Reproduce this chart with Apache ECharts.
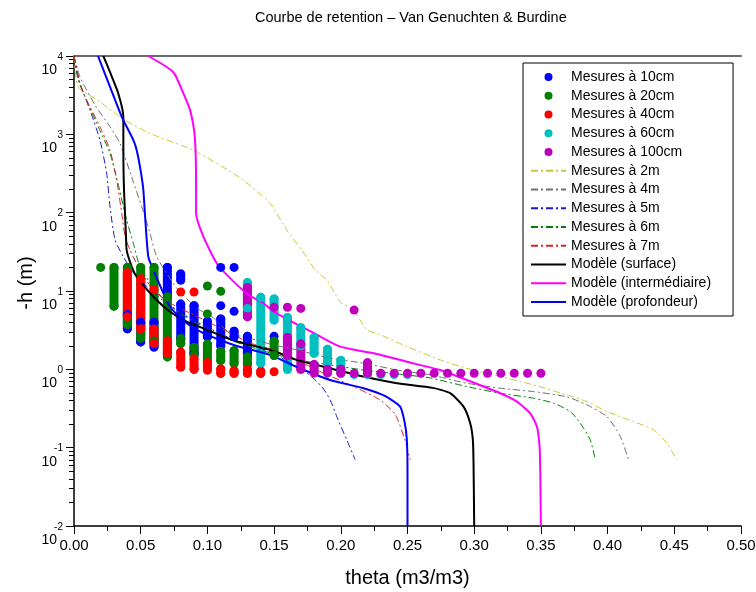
<!DOCTYPE html>
<html><head><meta charset="utf-8">
<script src="https://cdn.jsdelivr.net/npm/echarts@6/dist/echarts.min.js"></script>
<style>html,body{margin:0;padding:0;background:#fff}#c{width:756px;height:592px}</style>
</head><body><div id="c"></div>
<script>
// ---------- DATA ----------
const titleText = 'Courbe de retention – Van Genuchten & Burdine';
const xName = 'theta (m3/m3)';
const yName = '-h (m)';
const yTickValues = [0.01, 0.1, 1, 10, 100, 1000, 10000];
const yTickExponents = ['-2', '-1', '0', '1', '2', '3', '4'];

// measured columns: [theta, h top, h bottom]
const mes10cm = [[0.04,5,3.3],[0.05,4,2.24],[0.06,4,1.93],[0.07,20,8.4],[0.08,16.5,13.8],[0.08,6.8,2.5],[0.09,6.5,1.6],[0.10,4.1,2.6],[0.11,20,20],[0.11,6.5,6.5],[0.11,4.4,2.0],[0.12,20,20],[0.12,5.5,5.5],[0.12,3.06,2.6],[0.13,2.64,1.6],[0.15,2.64,2.64]];
const mes20cm = [[0.02,20,20],[0.03,20,6.4],[0.04,20,3.7],[0.05,20,2.48],[0.06,20,2.3],[0.07,8.4,1.44],[0.08,2.48,2.14],[0.09,1.9,1.5],[0.10,11.6,11.6],[0.10,5.1,5.1],[0.10,2.1,1.25],[0.11,9.9,9.9],[0.11,1.7,1.3],[0.12,1.73,1.19],[0.13,1.45,1.15],[0.15,2.3,1.5]];
const mes40cm = [[0.04,17.2,4.7],[0.05,14.2,3.3],[0.06,10.4,10.4],[0.06,3.27,2.14],[0.07,2.3,1.6],[0.08,9.7,9.7],[0.08,1.65,1.07],[0.09,9.7,9.7],[0.09,1.36,1.0],[0.10,1.22,0.98],[0.11,1.01,0.89],[0.12,0.96,0.89],[0.13,1.0,0.89],[0.14,0.95,0.89],[0.15,0.93,0.93]];
const mes60cm = [[0.13,12.8,6],[0.14,8.3,1.2],[0.15,7.9,4.25],[0.16,4.6,1.0],[0.17,3.4,2.0],[0.18,2.55,1.6],[0.19,1.8,1.2],[0.20,1.3,0.95],[0.21,0.86,0.86],[0.22,0.86,0.86],[0.23,0.86,0.86],[0.24,0.86,0.86],[0.25,0.86,0.86]];
const mes100cm = [[0.13,11.1,4.7],[0.15,6.2,6.2],[0.16,6.2,6.2],[0.16,2.55,1.5],[0.17,6.0,6.0],[0.17,2.1,1.0],[0.18,1.15,0.9],[0.19,1.0,0.9],[0.20,1.0,0.89],[0.21,5.7,5.7],[0.21,0.89,0.89],[0.22,1.21,0.89],[0.23,0.89,0.89],[0.24,0.89,0.89],[0.25,0.89,0.89],[0.26,0.89,0.89],[0.27,0.89,0.89],[0.28,0.89,0.89],[0.29,0.89,0.89],[0.30,0.89,0.89],[0.31,0.89,0.89],[0.32,0.89,0.89],[0.33,0.89,0.89],[0.34,0.89,0.89],[0.35,0.89,0.89]];

// measured profiles (dash-dot curves)
const m2Theta = [0,0.0032,0.0195,0.037,0.057,0.0895,0.1195,0.127,0.147,0.1595,0.1708,0.1808,0.1895,0.1995,0.2095,0.2195,0.227,0.2495,0.2745,0.2945,0.3195,0.3445,0.3695,0.3845,0.3995,0.4195,0.4345,0.4445,0.452];
const m2H = [10000,4036,2600,1563,1026,628,317,261,131.5,60,33.3,18.5,13.8,7.3,5.72,3.18,2.89,1.95,1.32,1.03,0.81,0.632,0.471,0.387,0.289,0.215,0.169,0.114,0.07];
const m4Theta = [0,0.0045,0.0158,0.027,0.0345,0.0445,0.0508,0.057,0.062,0.077,0.092,0.1045,0.117,0.132,0.1495,0.167,0.192,0.217,0.242,0.267,0.2945,0.3195,0.3445,0.3695,0.3845,0.3995,0.4095,0.4157];
const m4H = [10000,5410,2357,1247,766,245,119,54.5,27.4,10.9,6.07,4.52,2.89,2.49,2.05,1.77,1.39,1.2,0.98,0.85,0.665,0.574,0.52,0.445,0.352,0.249,0.139,0.07];
const m5Theta = [0,0.0045,0.012,0.0195,0.0245,0.027,0.0308,0.037,0.0458,0.0645,0.087,0.117,0.147,0.1745,0.1858,0.192,0.198,0.2045,0.2108];
const m5H = [10000,4460,2037,843,317,119,44.7,27.4,16,8.1,4.5,2.5,1.67,0.9,0.6,0.407,0.226,0.126,0.07];
const m6Theta = [0,0.0032,0.017,0.027,0.0345,0.0395,0.0445,0.0495,0.061,0.076,0.0945,0.117,0.142,0.167,0.192,0.217,0.242,0.267,0.2945,0.3195,0.3445,0.3595,0.372,0.3795,0.387,0.3908];
const m6H = [10000,4913,1377,571,183,80.5,40.6,20.4,10.3,5.72,3.68,2.37,1.72,1.32,1.14,0.98,0.874,0.777,0.602,0.495,0.428,0.37,0.289,0.205,0.126,0.07];
const m7Theta = [0,0.0045,0.0095,0.0195,0.027,0.032,0.0358,0.0383,0.042,0.0495,0.0595,0.072,0.0945,0.117,0.132,0.1495,0.167,0.182,0.207,0.2295,0.241,0.248,0.252];
const m7H = [10000,4460,2730,1247,628,261,98,49.3,33.4,18.5,10.3,7.03,4.53,2.91,2.17,1.77,1.32,0.98,0.632,0.407,0.262,0.126,0.07];

// models (solid curves)
const surfTheta = [0.022,0.027,0.0332,0.037,0.037,0.0375,0.039,0.0395,0.0433,0.047,0.0595,0.072,0.0845,0.097,0.112,0.127,0.147,0.167,0.192,0.217,0.242,0.269,0.282,0.292,0.297,0.299,0.2995,0.30];
const surfH = [10000,6210,3325,1672,628,194,49,33,20.4,15.2,8.46,5.44,4.06,3.34,2.61,2.15,1.77,1.32,1.03,0.81,0.665,0.58,0.496,0.334,0.205,0.126,0.063,0.01];
const interTheta = [0.0557,0.0745,0.082,0.087,0.09,0.0911,0.0915,0.0915,0.097,0.107,0.117,0.1307,0.142,0.15,0.1695,0.181,0.1995,0.2245,0.2495,0.2745,0.2945,0.3195,0.332,0.342,0.347,0.349,0.3495,0.35];
const interH = [10000,6210,3325,2037,1132,628,225,98.8,49.3,22.6,14.6,8.97,6.97,5.4,3.58,2.83,1.95,1.6,1.25,0.98,0.73,0.495,0.387,0.275,0.186,0.103,0.052,0.01];
const profTheta = [0.018,0.027,0.0358,0.0445,0.047,0.0499,0.052,0.0533,0.0557,0.0595,0.072,0.0845,0.097,0.1095,0.122,0.147,0.167,0.192,0.217,0.233,0.2445,0.248,0.2495,0.25,0.25];
const profH = [10000,4036,1672,843,628,349,194,88.7,27.4,18.5,6.3,3.87,2.89,2.37,1.99,1.53,1.07,0.73,0.574,0.458,0.334,0.205,0.126,0.052,0.01];

// ---------- BUILD ----------
const FONT = 'Liberation Sans, Arial, sans-serif';
function columns(cols) {
  const out = [];
  cols.forEach((c, i) => {
    if (i > 0) out.push([c[0], '-']);
    out.push([c[0], c[1]]);
    if (c[2] !== c[1]) out.push([c[0], c[2]]);
  });
  return out;
}
function pairs(t, h) { return t.map((v, i) => [v, h[i]]); }

const mesSeries = [
  ['Mesures à 10cm', mes10cm, '#0000ff'],
  ['Mesures à 20cm', mes20cm, '#008000'],
  ['Mesures à 40cm', mes40cm, '#ff0000'],
  ['Mesures à 60cm', mes60cm, '#00bfbf'],
  ['Mesures à 100cm', mes100cm, '#bf00bf']
].map(([name, cols, color]) => ({
  name, type: 'line', data: columns(cols), connectNulls: false,
  symbol: 'circle', symbolSize: 9, showSymbol: true, showAllSymbol: true,
  itemStyle: { color }, lineStyle: { color, width: 9, cap: 'round' },
  silent: true
}));
const DASHDOT = [7, 3, 2, 3];
const curveSeries = [
  ['Mesures à 2m', m2Theta, m2H, '#c8c832', 1, DASHDOT],
  ['Mesures à 4m', m4Theta, m4H, '#707070', 1, DASHDOT],
  ['Mesures à 5m', m5Theta, m5H, '#1a1acc', 1, DASHDOT],
  ['Mesures à 6m', m6Theta, m6H, '#008000', 1, DASHDOT],
  ['Mesures à 7m', m7Theta, m7H, '#e02020', 1, DASHDOT],
  ['Modèle (surface)', surfTheta, surfH, '#000000', 2, 'solid'],
  ['Modèle (intermédiaire)', interTheta, interH, '#ff00ff', 2, 'solid'],
  ['Modèle (profondeur)', profTheta, profH, '#0000ff', 2, 'solid']
].map(([name, t, h, color, width, type]) => ({
  name, type: 'line', data: pairs(t, h), showSymbol: false, symbol: 'none',
  smooth: 0.2, itemStyle: { color }, lineStyle: { color, width, type }, silent: true
}));

const minorVals = [];
for (let e = -2; e < 4; e++) for (let k = 2; k <= 9; k++) minorVals.push(k * Math.pow(10, e));

const chart = echarts.init(document.getElementById('c'), null, { renderer: 'canvas' });
chart.setOption({
  animation: false,
  backgroundColor: '#fff',
  title: { text: titleText, left: 255, top: 10, padding: 0,
    textStyle: { fontFamily: FONT, fontSize: 14.5, fontWeight: 'normal', color: '#000' } },
  grid: { left: 74, right: 15, top: 56, bottom: 66, containLabel: false, outerBoundsMode: 'none' },
  legend: {
    orient: 'vertical', left: 523, top: 63,
    padding: [7, 22, 7, 7], itemGap: 4.75, itemWidth: 35, itemHeight: 8,
    borderColor: '#000', borderWidth: 1, backgroundColor: '#fff',
    textStyle: { fontFamily: FONT, fontSize: 14, color: '#000', lineHeight: 14 },
    data: mesSeries.map(s => ({ name: s.name, icon: 'circle' }))
      .concat(curveSeries.map(s => ({ name: s.name, itemStyle: { opacity: 0 } })))
  },
  xAxis: [{
    type: 'value', min: 0, max: 0.5, interval: 0.05,
    name: xName, nameLocation: 'middle', nameGap: 42, nameMoveOverlap: false,
    nameTextStyle: { fontFamily: FONT, fontSize: 20, color: '#000' },
    axisLine: { lineStyle: { color: '#000', width: 1.5 } },
    axisTick: { length: 8, lineStyle: { color: '#000' } },
    minorTick: { show: true, splitNumber: 2, length: 5, lineStyle: { color: '#000' } },
    axisLabel: { formatter: v => v.toFixed(2), fontFamily: FONT, fontSize: 15, color: '#000', margin: 12 },
    splitLine: { show: false }
  }, {
    type: 'value', min: 0, max: 0.5, position: 'top',
    axisLine: { show: true, lineStyle: { color: '#6a6a6a', width: 2 } },
    axisTick: { show: false }, axisLabel: { show: false }, splitLine: { show: false }
  }],
  yAxis: [{
    type: 'log', logBase: 10, min: 0.01, max: 10000,
    name: yName, nameLocation: 'middle', nameGap: 38, nameRotate: 90, nameMoveOverlap: false,
    nameTextStyle: { fontFamily: FONT, fontSize: 20, color: '#000', padding: [0, 0, 0, 16] },
    axisLine: { show: true, lineStyle: { color: '#000', width: 1.5 } },
    axisTick: { show: true, customValues: yTickValues, length: 8, lineStyle: { color: '#000' } },
    axisLabel: {
      customValues: yTickValues, margin: 11, verticalAlign: 'top',
      formatter: v => {
        const i = yTickValues.findIndex(t => Math.abs(t - v) / t < 1e-6);
        return '{e|' + yTickExponents[i] + '}\n{b|10}';
      },
      rich: {
        e: { fontFamily: FONT, fontSize: 10, lineHeight: 2, color: '#000', align: 'right' },
        b: { fontFamily: FONT, fontSize: 14, lineHeight: 24, color: '#000', align: 'right', padding: [0, 6, 0, 0] }
      }
    },
    splitLine: { show: false }
  }, {
    type: 'log', logBase: 10, min: 0.01, max: 10000, position: 'left',
    axisLine: { show: false },
    axisTick: { show: true, customValues: minorVals, length: 5, lineStyle: { color: '#000' } },
    axisLabel: { show: false }, splitLine: { show: false }
  }],
  series: mesSeries.concat(curveSeries)
});
</script>
</body></html>
